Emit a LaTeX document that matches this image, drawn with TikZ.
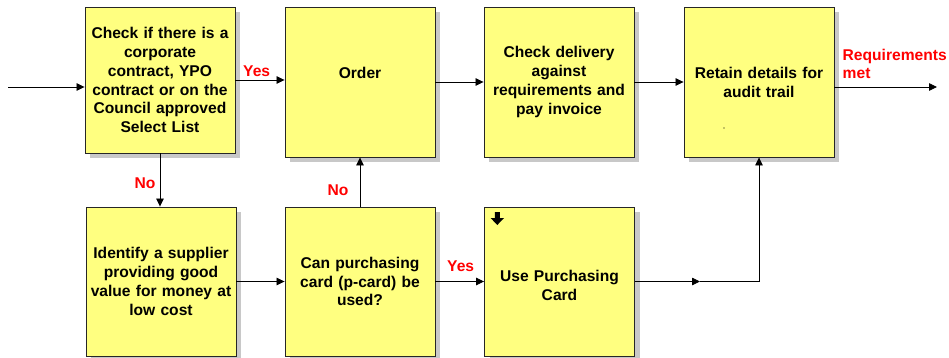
\documentclass[tikz,border=0pt]{standalone}
\usepackage{fontspec}
\setmainfont{Liberation Sans}
\usetikzlibrary{arrows.meta,shadows}
\definecolor{boxyellow}{RGB}{255,255,128}
\definecolor{boxshadow}{RGB}{200,200,200}
\definecolor{lblred}{RGB}{255,0,0}
\begin{document}
\begin{tikzpicture}[x=1pt,y=-1pt,
  box/.style={draw=black!85, line width=0.9pt, fill=boxyellow, minimum width=150pt, minimum height=150pt,
    inner sep=0pt, align=center, text width=146pt,
    font=\fontsize{15.6}{18.9}\selectfont\bfseries,
    drop shadow={shadow xshift=5pt, shadow yshift=-5pt, fill=boxshadow, opacity=1}},
  conn/.style={draw=black, line width=0.8pt},
  arr/.style={conn, -{Triangle[length=8pt,width=7.5pt]}},
  lbl/.style={text=lblred, inner sep=0pt, font=\fontsize{15.6}{18.3}\selectfont\bfseries, align=left}]
\useasboundingbox (0,0) rectangle (949,358);
% boxes
\node[box, minimum height=146pt] (check) at (160,80) {Check if there is a\\corporate\\contract, YPO\\contract or on the\\Council approved\\Select List};
\node[box] (order) at (360,82) {Order\\\mbox{}};
\node[box] (deliv) at (559,82) {Check delivery\\against\\requirements and\\pay invoice};
\node[box] (retain) at (759,82) {Retain details for\\audit trail};
\node[box, minimum height=149pt] (ident) at (161,281.5) {Identify a supplier\\providing good\\value for money at\\low cost};
\node[box, minimum height=149pt] (can) at (360,281.5) {Can purchasing\\card (p-card) be\\used?};
\node[box, minimum height=149pt] (use) at (559.5,281.5) {\mbox{}\\Use Purchasing\\Card};
% small marks inside boxes
\fill[black] (494.8,212) -- (499.8,212) -- (499.8,218) -- (504,218) -- (497.3,225) -- (490.6,218) -- (494.8,218) -- cycle;
\fill[black] (724,128) circle (0.6pt);
% free ends
\coordinate (in) at (8,87);
\coordinate (out) at (937,87);
\coordinate (mid) at (700,281.5);
% connectors
\draw[arr] (in) -- (check.west |- in);
\draw[arr] (check.east) -- (order.west |- check.east);
\draw[arr] (order.east) -- (deliv.west);
\draw[arr] (deliv.east) -- (retain.west);
\draw[arr] (retain.east |- out) -- (out);
\draw[arr] (check.south) -- (check.south |- ident.north);
\draw[arr] (ident.east) -- (can.west);
\draw[arr] (can.north) -- (order.south);
\draw[arr] (can.east) -- (use.west);
\draw[arr] (use.east) -- (mid);
\draw[arr] (mid) -| (retain.south);
% labels
\node[lbl, anchor=west] (yes1) at (243,71) {Yes};
\node[lbl, anchor=west] (yes2) at (447,266) {Yes};
\node[lbl, anchor=west] (no1) at (134.5,183.5) {No};
\node[lbl, anchor=west] (no2) at (327.5,190) {No};
\node[lbl, anchor=west] (req) at (842.5,64) {Requirements\\met};
\end{tikzpicture}
\end{document}
